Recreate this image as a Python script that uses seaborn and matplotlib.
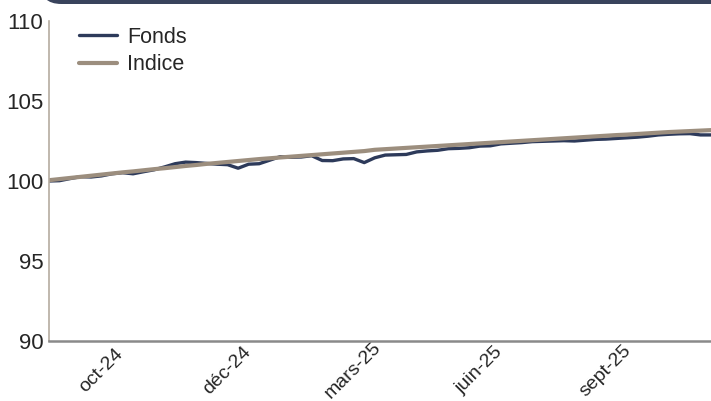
import pandas as pd
import numpy as np
import matplotlib.pyplot as plt
import seaborn as sns
from matplotlib.patches import FancyBboxPatch
from matplotlib.transforms import ScaledTranslation

# Weekly values, base 100
dates = pd.date_range('2024-09-06', periods=64, freq='7D')

fonds = [100.00, 100.02, 100.15, 100.27, 100.25, 100.32, 100.45, 100.52, 100.45, 100.58,
         100.70, 100.88, 101.08, 101.18, 101.15, 101.10, 101.05, 101.02, 100.80, 101.05,
         101.08, 101.30, 101.52, 101.48, 101.50, 101.58, 101.28, 101.27, 101.38, 101.40,
         101.15, 101.45, 101.62, 101.64, 101.66, 101.82, 101.88, 101.92, 102.02,
         102.04, 102.08, 102.18, 102.20, 102.32, 102.36, 102.40, 102.46, 102.48, 102.50,
         102.52, 102.50, 102.55, 102.60, 102.62, 102.66, 102.70, 102.74, 102.80, 102.88,
         102.92, 102.95, 102.96, 102.88, 102.88]

indice = [100.05, 100.12, 100.19, 100.26, 100.33, 100.40, 100.47, 100.54, 100.60, 100.67,
          100.74, 100.80, 100.87, 100.94, 101.00, 101.07, 101.13, 101.19, 101.25, 101.31,
          101.37, 101.42, 101.47, 101.52, 101.57, 101.62, 101.67, 101.72, 101.77, 101.82,
          101.87, 101.95, 101.99, 102.03, 102.07, 102.11, 102.15, 102.19, 102.23,
          102.27, 102.31, 102.35, 102.39, 102.43, 102.47, 102.51, 102.55, 102.59, 102.63,
          102.67, 102.71, 102.75, 102.79, 102.83, 102.87, 102.90, 102.94, 102.98, 103.02,
          103.06, 103.09, 103.12, 103.15, 103.18]

tick_idx = [4, 16, 28, 40, 52]
tick_labels = ['oct-24', 'déc-24', 'mars-25', 'juin-25', 'sept-25']
y_ticks = [90, 95, 100, 105, 110]

df = pd.DataFrame({'idx': np.arange(len(dates)), 'Fonds': fonds, 'Indice': indice})
long = df.melt(id_vars='idx', var_name='serie', value_name='valeur')

sns.set_style('white')
plt.rcParams['font.family'] = ['Liberation Sans', 'DejaVu Sans']

fig = plt.figure(figsize=(7.11, 4.01), dpi=100)
ax = fig.add_axes([49 / 711, 1 - 341 / 401, 1 - 49 / 711, (341 - 21) / 401])

palette = {'Fonds': '#2d3a5a', 'Indice': '#9c8e7e'}
sns.lineplot(data=long[long.serie == 'Fonds'], x='idx', y='valeur', color=palette['Fonds'],
             linewidth=2.4, ax=ax, label='Fonds')
sns.lineplot(data=long[long.serie == 'Indice'], x='idx', y='valeur', color=palette['Indice'],
             linewidth=3.0, ax=ax, label='Indice')

ax.set_xlim(0, len(dates) - 1)
ax.set_ylim(90, 110)
ax.set_yticks(y_ticks)
ax.set_yticklabels([str(v) for v in y_ticks], fontsize=16)
ax.set_xticks(tick_idx)
ax.set_xticklabels(tick_labels, fontsize=14, rotation=45, ha='center', va='center')
ax.tick_params(axis='x', length=9.4, width=1.0, color='#8a8a8a', pad=13.7, direction='out')
ax.tick_params(axis='y', length=0, pad=4)
shift = ScaledTranslation(0.10, 0.025, fig.dpi_scale_trans)
for lab in ax.get_xticklabels():
    lab.set_transform(lab.get_transform() + shift)
ax.set_xlabel('')
ax.set_ylabel('')

for side in ['top', 'right']:
    ax.spines[side].set_visible(False)
ax.spines['left'].set_color('#b5aca0')
ax.spines['left'].set_linewidth(1.2)
ax.spines['bottom'].set_color('#8a8a8a')
ax.spines['bottom'].set_linewidth(1.8)

ax.legend(loc='upper left', bbox_to_anchor=(0.016, 1.043), frameon=False, fontsize=15.5,
          handlelength=1.75, handletextpad=0.5, labelspacing=0.3)

# dark header band cut off at the top
band = FancyBboxPatch((40 / 711, 1 - 4 / 401), 1.2, 0.2, boxstyle='round,pad=0,rounding_size=0.03',
                      transform=fig.transFigure, facecolor='#39435c', edgecolor='none',
                      mutation_aspect=711 / 401, clip_on=False)
fig.patches.append(band)

fig.savefig('out.png', dpi=100)
